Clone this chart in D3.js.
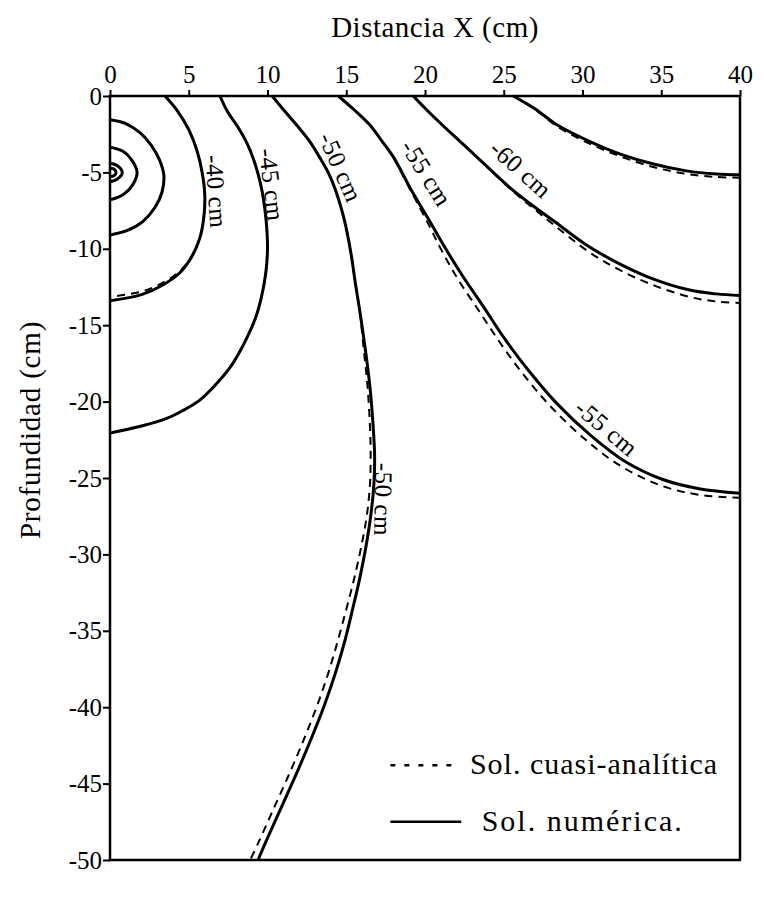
<!DOCTYPE html>
<html><head><meta charset="utf-8">
<script src="https://cdn.jsdelivr.net/npm/d3@7"></script>
<style>
body{margin:0;background:#fff;}
svg{display:block;}
text{font-family:"Liberation Serif","Times New Roman",serif;fill:#000;}
</style></head>
<body>
<svg id="chart" width="764" height="903"></svg>
<script>
// ---------- data ----------
const xTicks = [0,5,10,15,20,25,30,35,40];
const yTicks = [0,-5,-10,-15,-20,-25,-30,-35,-40,-45,-50];
const xTitle = "Distancia X (cm)";
const yTitle = "Profundidad (cm)";
const legendLabels = ["Sol. cuasi-analítica","Sol. numérica."];

// numerical solution (solid)
const numA1 = [[0,-4.72],[0.25,-4.78],[0.38,-5.0],[0.25,-5.22],[0,-5.28]];
const numA2 = [[0,-4.4],[0.45,-4.55],[0.78,-5.0],[0.45,-5.45],[0,-5.62]];
const numB  = [[0,-3.35],[0.8,-3.6],[1.35,-4.15],[1.72,-5.0],[1.45,-5.8],[0.85,-6.45],[0,-6.8]];
const numC  = [[0,-1.55],[1.0,-1.8],[1.9,-2.4],[2.6,-3.2],[3.15,-4.2],[3.42,-5.2],[3.3,-6.3],[2.85,-7.3],[2.1,-8.2],[1.1,-8.8],[0,-9.1]];
const numD  = [[3.5,0],[4.3,-1],[5.0,-2.2],[5.5,-3.5],[5.85,-5],[6.02,-6.5],[5.95,-8],[5.7,-9.3],[5.2,-10.5],[4.4,-11.6],[3.3,-12.4],[2.0,-13.0],[0,-13.4]];
const numE  = [[6.98,0],[7.45,-1],[8.1,-2],[8.7,-3.1],[9.1,-4.1],[9.4,-5.1],[9.65,-6.2],[9.82,-7.3],[9.95,-8.6],[10.0,-10],[9.9,-11.5],[9.65,-13.0],[9.25,-14.5],[8.75,-15.7],[8.2,-16.8],[7.6,-17.8],[6.7,-18.9],[5.7,-19.9],[4.6,-20.6],[3.6,-21.1],[2.0,-21.6],[0,-22.05]];
const numF  = [[10.3,0],[11.1,-1],[11.85,-1.9],[12.7,-3],[13.3,-4],[13.85,-5],[14.3,-6.1],[14.9,-8.2],[15.3,-10.3],[15.6,-12.4],[15.85,-14],[16.2,-16.5],[16.5,-19],[16.7,-21.5],[16.8,-23.5],[16.75,-25.5],[16.55,-27.5],[16.25,-29.5],[15.85,-31.6],[15.4,-33.6],[14.9,-35.7],[14.3,-37.8],[13.6,-39.9],[12.8,-42],[11.9,-44.2],[10.9,-46.5],[9.9,-48.8],[9.4,-50]];
const numG  = [[14.5,0],[15.5,-0.9],[16.5,-1.9],[17.3,-3],[18.0,-4],[19.1,-6.1],[20.3,-8.2],[21.2,-9.8],[22.4,-11.8],[23.75,-13.85],[25.1,-15.95],[26.6,-18.0],[28.35,-20.1],[30.5,-22.2],[32.6,-23.85],[35.1,-25.1],[37.4,-25.7],[40,-26.0]];
const numH  = [[19.25,0],[20.1,-0.9],[21.1,-1.9],[22.2,-2.95],[23.3,-4],[25.5,-6.1],[27.0,-7.3],[28.2,-8.2],[30.4,-9.85],[32.2,-10.9],[34.3,-11.9],[36.8,-12.7],[38.5,-12.95],[40,-13.05]];
const numI  = [[25.6,0],[27.0,-0.85],[28.4,-1.9],[30.3,-2.9],[32.4,-3.8],[34.5,-4.45],[36.6,-4.9],[38.5,-5.1],[40,-5.15]];

// quasi-analytical solution (dashed)
const anaA1 = [[0,-4.72],[0.25,-4.78],[0.38,-5.0],[0.25,-5.22],[0,-5.28]];
const anaA2 = [[0,-4.4],[0.45,-4.55],[0.78,-5.0],[0.45,-5.45],[0,-5.62]];
const anaB  = [[0,-3.35],[0.8,-3.6],[1.35,-4.15],[1.72,-5.0],[1.45,-5.8],[0.85,-6.45],[0,-6.8]];
const anaC  = [[0,-1.55],[1.0,-1.8],[1.9,-2.4],[2.6,-3.2],[3.15,-4.2],[3.42,-5.2],[3.3,-6.3],[2.85,-7.3],[2.1,-8.2],[1.1,-8.8],[0,-9.1]];
const anaD  = [[3.5,0],[4.3,-1],[5.0,-2.2],[5.5,-3.5],[5.85,-5],[6.02,-6.5],[5.95,-8],[5.7,-9.3],[5.2,-10.45],[4.4,-11.5],[3.3,-12.25],[2.0,-12.8],[0,-13.15]];
const anaE  = [[6.98,0],[7.45,-1],[8.1,-2],[8.7,-3.1],[9.1,-4.1],[9.4,-5.1],[9.65,-6.2],[9.82,-7.3],[9.95,-8.6],[10.0,-10],[9.9,-11.5],[9.65,-13.0],[9.25,-14.5],[8.75,-15.7],[8.2,-16.8],[7.6,-17.8],[6.7,-18.9],[5.7,-19.9],[4.6,-20.6],[3.6,-21.1],[2.0,-21.6],[0,-22.05]];
const anaF  = [[10.3,0],[11.1,-1],[11.85,-1.9],[12.7,-3],[13.3,-4],[13.85,-5],[14.3,-6.1],[14.9,-8.2],[15.3,-10.3],[15.6,-12.4],[15.85,-14],[16.1,-16.5],[16.35,-19],[16.5,-21.5],[16.55,-23.5],[16.5,-25.5],[16.3,-27.5],[15.95,-29.5],[15.5,-31.6],[15.0,-33.6],[14.45,-35.7],[13.85,-37.8],[13.15,-39.9],[12.35,-42],[11.45,-44.2],[10.45,-46.5],[9.45,-48.8],[8.9,-50]];
const anaG  = [[14.5,0],[15.5,-0.9],[16.5,-1.9],[17.3,-3],[18.0,-4.05],[19.1,-6.2],[20.2,-8.35],[21.0,-10.0],[22.1,-12.0],[23.45,-14.1],[24.8,-16.2],[26.3,-18.3],[28.05,-20.4],[30.2,-22.5],[32.4,-24.2],[35.0,-25.5],[37.4,-26.1],[40,-26.3]];
const anaH  = [[19.25,0],[20.1,-0.9],[21.1,-1.9],[22.2,-2.95],[23.3,-4],[25.5,-6.15],[27.0,-7.45],[28.2,-8.45],[30.4,-10.2],[32.2,-11.3],[34.3,-12.3],[36.8,-13.15],[38.5,-13.45],[40,-13.55]];
const anaI  = [[25.6,0],[27.0,-0.9],[28.4,-2.0],[30.3,-3.05],[32.4,-3.95],[34.5,-4.65],[36.6,-5.1],[38.5,-5.3],[40,-5.35]];

const numSeries = [numA1,numA2,numB,numC,numD,numE,numF,numG,numH,numI];
const anaSeries = [anaA1,anaA2,anaB,anaC,anaD,anaE,anaF,anaG,anaH,anaI];

// contour labels: text, anchor (data coords), rotation (deg)
const contourLabels = [
  {t:"-40 cm", x:6.05, y:-3.9, a:86},
  {t:"-45 cm", x:9.45, y:-3.5, a:83},
  {t:"-50 cm", x:13.2, y:-2.7, a:66},
  {t:"-55 cm", x:18.4, y:-3.3, a:58},
  {t:"-60 cm", x:24.0, y:-3.6, a:42},
  {t:"-55 cm", x:29.4, y:-20.6,a:40},
  {t:"-50 cm", x:16.85,y:-24.0,a:91}
];

// ---------- layout ----------
const svg = d3.select("#chart");
const L = 110, R = 740, T = 96, B = 860;
const x = d3.scaleLinear().domain([0,40]).range([L,R]);
const y = d3.scaleLinear().domain([0,-50]).range([T,B]);

svg.append("rect").attr("width",764).attr("height",903).attr("fill","#fff");

svg.append("defs").append("clipPath").attr("id","clip")
  .append("rect").attr("x",L).attr("y",T).attr("width",R-L).attr("height",B-T);

const line = d3.line().x(d=>x(d[0])).y(d=>y(d[1])).curve(d3.curveCatmullRom.alpha(0.5));

const g = svg.append("g").attr("clip-path","url(#clip)");
g.selectAll("path.ana").data(anaSeries).join("path").attr("class","ana")
  .attr("d",line).attr("fill","none").attr("stroke","#000")
  .attr("stroke-width",2).attr("stroke-dasharray","8,6");
g.selectAll("path.num").data(numSeries).join("path").attr("class","num")
  .attr("d",line).attr("fill","none").attr("stroke","#000")
  .attr("stroke-width",3);

// axes
const xAxis = d3.axisTop(x).tickValues(xTicks).tickSize(6).tickPadding(7).tickFormat(d3.format("d"));
const yAxis = d3.axisLeft(y).tickValues(yTicks).tickSize(7).tickPadding(1).tickFormat(d=>String(d));
const gx = svg.append("g").attr("transform",`translate(0,${T})`).call(xAxis);
const gy = svg.append("g").attr("transform",`translate(${L},0)`).call(yAxis);
[gx,gy].forEach(a=>{
  a.select(".domain").remove();
  a.selectAll(".tick line").attr("stroke","#000").attr("stroke-width",2);
  a.selectAll(".tick text").style("font-family","'Liberation Serif',serif").style("font-size","25px").attr("fill","#000");
});

// frame
svg.append("rect").attr("x",L).attr("y",T).attr("width",R-L).attr("height",B-T)
  .attr("fill","none").attr("stroke","#000").attr("stroke-width",2.5);

// titles
svg.append("text").attr("x",435).attr("y",37).attr("text-anchor","middle")
  .style("font-size","29px").style("letter-spacing","0.5px").text(xTitle);
svg.append("text").attr("transform",`translate(40,430) rotate(-90)`).attr("text-anchor","middle")
  .style("font-size","29px").style("letter-spacing","0.8px").text(yTitle);

// contour labels
svg.selectAll("text.cl").data(contourLabels).join("text").attr("class","cl")
  .attr("transform",d=>`translate(${x(d.x)},${y(d.y)}) rotate(${d.a})`)
  .style("font-size","25px").style("letter-spacing","0.5px").text(d=>d.t);

// legend
const legY = [-43.8,-47.5];
const lg = svg.append("g");
lg.append("line").attr("x1",x(17.8)).attr("x2",x(21.9)).attr("y1",y(legY[0])).attr("y2",y(legY[0]))
  .attr("stroke","#000").attr("stroke-width",2.5).attr("stroke-dasharray","5,9");
lg.append("line").attr("x1",x(17.8)).attr("x2",x(22.3)).attr("y1",y(legY[1])).attr("y2",y(legY[1]))
  .attr("stroke","#000").attr("stroke-width",2.5);
lg.append("text").attr("x",x(22.85)).attr("y",y(legY[0])+9).style("font-size","30px").style("letter-spacing","1px").text(legendLabels[0]);
lg.append("text").attr("x",x(23.6)).attr("y",y(legY[1])+9).style("font-size","30px").style("letter-spacing","2px").text(legendLabels[1]);
</script>
</body></html>
